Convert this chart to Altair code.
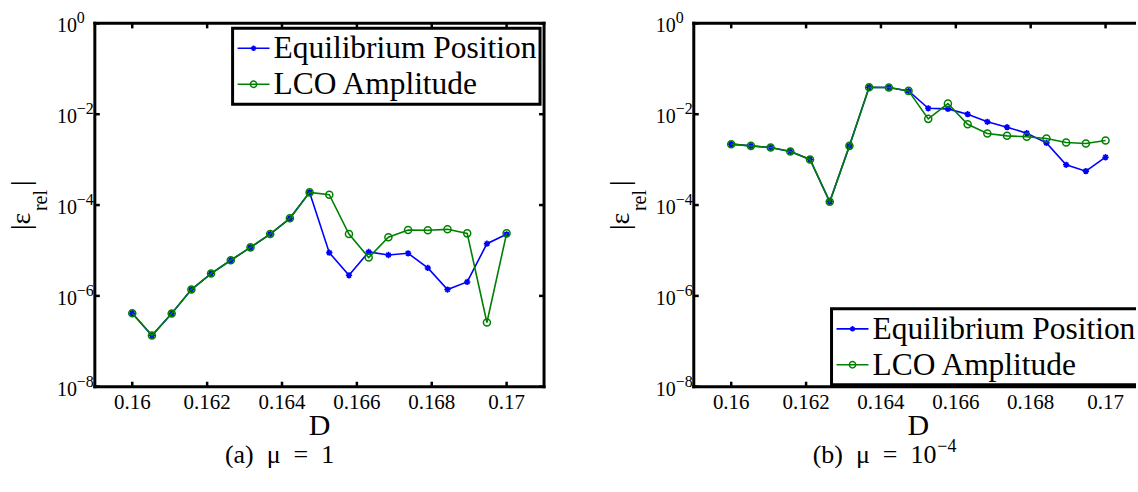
import altair as alt
import pandas as pd

# ---------------- data ----------------
D = [0.16, 0.160526, 0.161053, 0.161579, 0.162105, 0.162632, 0.163158,
     0.163684, 0.164211, 0.164737, 0.165263, 0.165789, 0.166316, 0.166842,
     0.167368, 0.167895, 0.168421, 0.168947, 0.169474, 0.17]

left_eq = [4.16e-7, 1.34e-7, 4.1e-7, 1.38e-6, 3.1e-6, 6.1e-6, 1.17e-5, 2.3e-5,
           5.1e-5, 1.9e-4, 8.95e-6, 2.84e-6, 9.3e-6, 7.96e-6, 8.67e-6, 4.12e-6,
           1.38e-6, 2.03e-6, 1.41e-5, 2.27e-5]
left_lco = [4.16e-7, 1.34e-7, 4.1e-7, 1.38e-6, 3.1e-6, 6.1e-6, 1.17e-5, 2.3e-5,
            5.1e-5, 1.9e-4, 1.69e-4, 2.3e-5, 6.97e-6, 1.95e-5, 2.83e-5, 2.78e-5,
            2.92e-5, 2.38e-5, 2.6e-7, 2.38e-5]

right_eq = [2.19e-3, 2.01e-3, 1.85e-3, 1.51e-3, 1.01e-3, 1.18e-4, 2.01e-3,
            3.92e-2, 3.86e-2, 3.26e-2, 1.35e-2, 1.31e-2, 1.0e-2, 6.8e-3,
            5.18e-3, 3.82e-3, 2.34e-3, 7.7e-4, 5.58e-4, 1.13e-3]
right_lco = [2.19e-3, 2.01e-3, 1.85e-3, 1.51e-3, 1.01e-3, 1.18e-4, 2.01e-3,
             3.92e-2, 3.86e-2, 3.26e-2, 7.9e-3, 1.71e-2, 6.0e-3, 3.76e-3,
             3.34e-3, 3.18e-3, 2.92e-3, 2.38e-3, 2.26e-3, 2.64e-3]

series_names = ["Equilibrium Position", "LCO Amplitude"]
x_ticks = [0.16, 0.162, 0.164, 0.166, 0.168, 0.17]
x_tick_labels = ["0.16", "0.162", "0.164", "0.166", "0.168", "0.17"]
y_ticks = [1, 1e-2, 1e-4, 1e-6, 1e-8]
y_tick_exps = ["0", "\u22122", "\u22124", "\u22126", "\u22128"]
captions = [("(a)\u2002\u03bc\u2002=\u20021", ""), ("(b)\u2002\u03bc\u2002=\u200210", "\u22124")]

# ---------------- style ----------------
BLUE = "#0000ff"
GREEN = "#008000"
FONT = "Liberation Serif"
ASTER = "M-1,0L1,0M0,-1L0,1M-0.7,-0.7L0.7,0.7M-0.7,0.7L0.7,-0.7"
H = 364


def panel(eq, lco, width, xmax, leg_y, caption, right_border, anchor):
    df = pd.DataFrame({"D": D + D, "v": eq + lco,
                       "s": [series_names[0]] * len(D) + [series_names[1]] * len(D)})
    xs = alt.Scale(domain=[0.159, xmax], zero=False, nice=False)
    ys = alt.Scale(type="log", domain=[1e-8, 1], nice=False)
    X = lambda f: alt.X(f, type="quantitative", scale=xs, axis=None)
    Y = lambda f: alt.Y(f, type="quantitative", scale=ys, axis=None)

    base = alt.Chart(df)
    eqc = base.transform_filter(alt.datum.s == series_names[0])
    lcc = base.transform_filter(alt.datum.s == series_names[1])
    layers = [
        eqc.mark_line(color=BLUE, strokeWidth=1.6).encode(x=X("D"), y=Y("v")),
        eqc.mark_point(shape=ASTER, color=BLUE, size=40, strokeWidth=1.6,
                       filled=False, opacity=1).encode(x=X("D"), y=Y("v")),
        lcc.mark_line(color=GREEN, strokeWidth=1.6).encode(x=X("D"), y=Y("v")),
        lcc.mark_point(shape="circle", color=GREEN, size=50, strokeWidth=1.5,
                       filled=False, opacity=1).encode(x=X("D"), y=Y("v")),
    ]

    xt = alt.Chart(pd.DataFrame({"t": x_ticks, "lab": x_tick_labels}))
    yt = alt.Chart(pd.DataFrame({"e": y_ticks, "exp": y_tick_exps}))
    # inward ticks
    layers += [
        xt.mark_rule(color="black", strokeWidth=2.5).encode(
            x=X("t"), y=alt.value(H), y2=alt.value(H - 5)),
        xt.mark_rule(color="black", strokeWidth=2.5).encode(
            x=X("t"), y=alt.value(0), y2=alt.value(5)),
        yt.mark_rule(color="black", strokeWidth=2.5).encode(
            y=Y("e"), x=alt.value(0), x2=alt.value(5)),
    ]
    if right_border:
        layers.append(yt.mark_rule(color="black", strokeWidth=2.5).encode(
            y=Y("e"), x=alt.value(width - 5), x2=alt.value(width)))
    # tick labels
    layers += [
        xt.mark_text(font=FONT, fontSize=21, baseline="alphabetic", align="center",
                     color="black").encode(x=X("t"), y=alt.value(H + 22), text="lab:N"),
        yt.mark_text(font=FONT, fontSize=20, baseline="alphabetic", align="left",
                     dy=9, color="black", text="10").encode(x=alt.value(-38), y=Y("e")),
        yt.mark_text(font=FONT, fontSize=16, baseline="alphabetic", align="left",
                     dy=0, color="black").encode(x=alt.value(-18), y=Y("e"), text="exp:N"),
    ]
    # frame
    fr = alt.Chart(pd.DataFrame({"k": [0]}))
    layers += [
        fr.mark_rule(color="black", strokeWidth=3).encode(
            x=alt.value(-1.5), x2=alt.value(width if not right_border else width + 1.5), y=alt.value(0)),
        fr.mark_rule(color="black", strokeWidth=3).encode(
            x=alt.value(-1.5), x2=alt.value(width if not right_border else width + 1.5), y=alt.value(H)),
        fr.mark_rule(color="black", strokeWidth=3).encode(
            x=alt.value(0), y=alt.value(-1.5), y2=alt.value(H + 1.5)),
    ]
    if right_border:
        layers.append(fr.mark_rule(color="black", strokeWidth=3).encode(
            x=alt.value(width), y=alt.value(-1.5), y2=alt.value(H + 1.5)))
    # axis titles
    layers += [
        fr.mark_text(font=FONT, fontSize=30, align="center", baseline="alphabetic",
                     color="black", text="D").encode(x=alt.value(225), y=alt.value(412)),
        fr.mark_text(font=FONT, fontSize=28, align="left", baseline="alphabetic",
                     angle=270, color="black", text="|\u03b5").encode(
            x=alt.value(-65), y=alt.value(207)),
        fr.mark_text(font=FONT, fontSize=20, align="left", baseline="alphabetic",
                     angle=270, color="black", text="rel").encode(
            x=alt.value(-48), y=alt.value(188)),
        fr.mark_text(font=FONT, fontSize=28, align="left", baseline="alphabetic",
                     angle=270, color="black", text="|").encode(
            x=alt.value(-65), y=alt.value(163)),
    ]
    # caption
    main, sup = caption
    if sup:
        layers += [
            fr.mark_text(font=FONT, fontSize=26, align="right", baseline="alphabetic",
                         color="black", text=main).encode(x=alt.value(243), y=alt.value(440)),
            fr.mark_text(font=FONT, fontSize=18, align="left", baseline="alphabetic",
                         color="black", text=sup).encode(x=alt.value(244), y=alt.value(429)),
        ]
    else:
        layers.append(
            fr.mark_text(font=FONT, fontSize=26, align="center", baseline="alphabetic",
                         color="black", text=main).encode(x=alt.value(185), y=alt.value(440)))
    # legend
    r1, r2 = leg_y + 20, leg_y + 56
    lx2 = 446 if right_border else width + 30
    layers += [
        fr.mark_rect(fill="white", stroke="black", strokeWidth=3, clip=True).encode(
            x=alt.value(138), x2=alt.value(lx2), y=alt.value(leg_y), y2=alt.value(leg_y + 76)),
        fr.mark_rule(color=BLUE, strokeWidth=1.6).encode(
            x=alt.value(143), x2=alt.value(175), y=alt.value(r1)),
        fr.mark_point(shape=ASTER, color=BLUE, size=30, strokeWidth=1.5, opacity=1).encode(
            x=alt.value(159), y=alt.value(r1)),
        fr.mark_rule(color=GREEN, strokeWidth=1.6).encode(
            x=alt.value(143), x2=alt.value(175), y=alt.value(r2)),
        fr.mark_point(shape="circle", color=GREEN, size=40, strokeWidth=1.5,
                      filled=False, opacity=1).encode(x=alt.value(159), y=alt.value(r2)),
        fr.mark_text(font=FONT, fontSize=31.5, align="left", baseline="alphabetic",
                     color="black", clip=True, text=series_names[0]).encode(
            x=alt.value(179), y=alt.value(r1 + 10)),
        fr.mark_text(font=FONT, fontSize=31.5, align="left", baseline="alphabetic",
                     color="black", clip=True, text=series_names[1]).encode(
            x=alt.value(179), y=alt.value(r2 + 10)),
    ]
    # invisible layout anchor
    layers.append(fr.mark_rule(strokeOpacity=0, strokeWidth=0.5).encode(
        x=alt.value(anchor[0]), x2=alt.value(anchor[0] + 1), y=alt.value(anchor[1])))

    return alt.layer(*layers).properties(width=width, height=H)


left = panel(left_eq, left_lco, 450, 0.171, 5, captions[0], True, (-95, -23))
right = panel(right_eq, right_lco, 443, 0.159 + 443 / 37500, 286, captions[1], False, (-90, -23))

chart = alt.hconcat(left, right, spacing=150, bounds="flush").properties(
    padding=0
).configure_view(stroke=None)

chart.save("out.html", embed_options={"renderer": "svg", "actions": False})
